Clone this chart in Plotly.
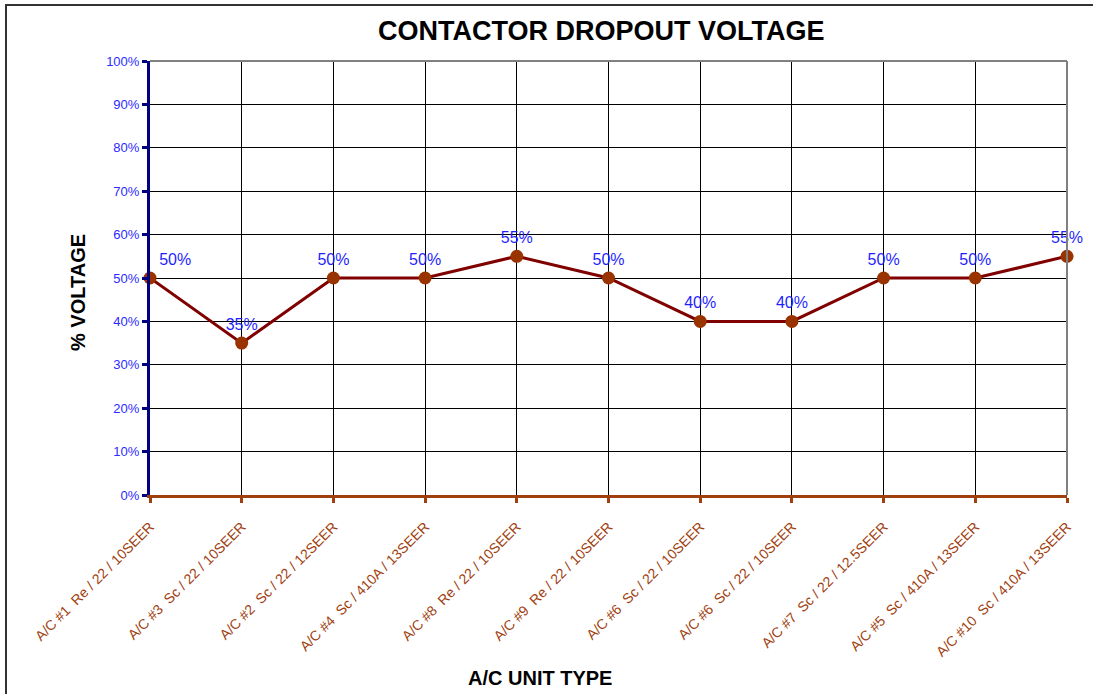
import plotly.graph_objects as go

categories = [
    "A/C #1  Re / 22 / 10SEER",
    "A/C #3  Sc / 22 / 10SEER",
    "A/C #2  Sc / 22 / 12SEER",
    "A/C #4  Sc / 410A / 13SEER",
    "A/C #8  Re / 22 / 10SEER",
    "A/C #9  Re / 22 / 10SEER",
    "A/C #6  Sc / 22 / 10SEER",
    "A/C #6  Sc / 22 / 10SEER",
    "A/C #7  Sc / 22 / 12.5SEER",
    "A/C #5  Sc / 410A / 13SEER",
    "A/C #10  Sc / 410A / 13SEER",
]
values = [0.50, 0.35, 0.50, 0.50, 0.55, 0.50, 0.40, 0.40, 0.50, 0.50, 0.55]
y_ticks = [i / 10 for i in range(11)]
y_tick_labels = [f"{i * 10}%" for i in range(11)]

xs = list(range(len(categories)))
label_text = [f"{round(v * 100)}%" for v in values]
label_pos = ["top right"] + ["top center"] * (len(values) - 1)

font = "Liberation Sans, Arial, sans-serif"

W, H = 1093, 694
L, R, T, B = 150, 26, 61, 199
pw, ph = W - L - R, H - T - B


def px_x(x):
    return (x - L) / pw


def px_y(y):
    return (H - B - y) / ph


fig = go.Figure()
fig.add_trace(go.Scatter(
    x=xs, y=values, mode="lines+markers+text",
    line=dict(color="#800000", width=3),
    marker=dict(color="#993300", size=13),
    text=label_text, textposition=label_pos,
    textfont=dict(color="#1F1FFF", size=16, family=font),
    cliponaxis=False, showlegend=False, hoverinfo="skip",
))

fig.update_layout(
    width=W, height=H,
    margin=dict(l=L, r=R, t=T, b=B),
    paper_bgcolor="white", plot_bgcolor="white",
    font=dict(family=font),
    shapes=[
        dict(type="rect", xref="paper", yref="paper", x0=px_x(6), x1=px_x(1200), y0=px_y(800), y1=px_y(5),
             line=dict(color="#333333", width=2), fillcolor="rgba(0,0,0,0)", layer="below"),
        dict(type="line", xref="paper", yref="paper", x0=0, x1=1, y0=1, y1=1,
             line=dict(color="#808080", width=2)),
        dict(type="line", xref="paper", yref="paper", x0=1, x1=1, y0=0, y1=1,
             line=dict(color="#808080", width=2)),
    ],
    annotations=[
        dict(text="<b>CONTACTOR DROPOUT VOLTAGE</b>", xref="paper", yref="paper",
             x=px_x(601), y=px_y(31), xanchor="center", yanchor="middle", showarrow=False,
             font=dict(size=27, color="black", family=font)),
        dict(text="<b>% VOLTAGE</b>", xref="paper", yref="paper",
             x=px_x(78), y=px_y(293), xanchor="center", yanchor="middle", showarrow=False,
             textangle=-90, font=dict(size=20, color="black", family=font)),
        dict(text="<b>A/C UNIT TYPE</b>", xref="paper", yref="paper",
             x=px_x(540), y=px_y(678), xanchor="center", yanchor="middle", showarrow=False,
             font=dict(size=20, color="black", family=font)),
    ],
)

fig.update_xaxes(
    range=[0, len(categories) - 1], tickmode="array", tickvals=xs, ticktext=categories,
    tickangle=-45, tickfont=dict(color="#A0400F", size=14, family=font),
    ticklabelstandoff=10,
    showgrid=True, gridcolor="black", gridwidth=1,
    showline=True, linecolor="#A0400F", linewidth=3,
    ticks="outside", tickcolor="#A0400F", ticklen=5, tickwidth=3,
    zeroline=False,
)
fig.update_yaxes(
    range=[0, 1], tickmode="array", tickvals=y_ticks, ticktext=y_tick_labels,
    tickfont=dict(color="#2B2BFF", size=13, family=font),
    showgrid=True, gridcolor="black", gridwidth=1,
    showline=True, linecolor="#000080", linewidth=3,
    ticks="outside", tickcolor="#000080", ticklen=5, tickwidth=3,
    zeroline=False,
)

fig.write_html("out.html", config={"displayModeBar": False},
               post_script="document.body.style.margin='0px';")
